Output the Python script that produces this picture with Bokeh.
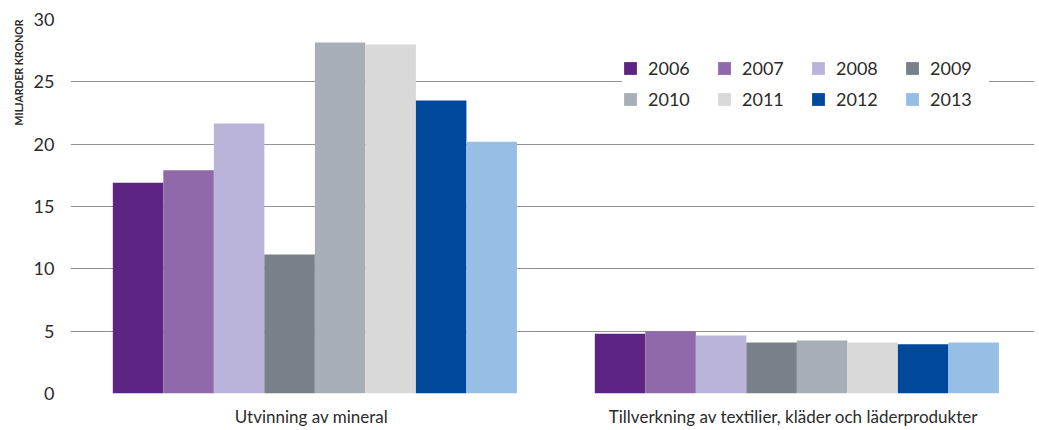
from bokeh.plotting import figure
from bokeh.models import (ColumnDataSource, FactorRange, Range1d, Legend, LegendItem,
                          Title, FixedTicker)
from bokeh.transform import dodge
from bokeh.embed import file_html
from bokeh.resources import INLINE

# Data (miljarder kronor)
categories = ["Utvinning av mineral", "Tillverkning av textilier, kläder och läderprodukter"]
years = ["2006", "2007", "2008", "2009", "2010", "2011", "2012", "2013"]
v2006 = [16.9, 4.8]
v2007 = [17.9, 5.0]
v2008 = [21.65, 4.65]
v2009 = [11.15, 4.1]
v2010 = [28.15, 4.25]
v2011 = [28.0, 4.1]
v2012 = [23.5, 3.95]
v2013 = [20.2, 4.1]
y_ticks = [0, 5, 10, 15, 20, 25, 30]

colors = ["#5c2483", "#8f69a9", "#bab4da", "#7a8088",
          "#a8aeb5", "#d9d9d9", "#00489a", "#97bfe6"]
series = [v2006, v2007, v2008, v2009, v2010, v2011, v2012, v2013]

data = {"cat": categories}
for yr, vals in zip(years, series):
    data[yr] = vals
source = ColumnDataSource(data)

FONT = "Lato"
TEXT = "#2b2b2b"
GRID = "#8e949a"

p = figure(width=1039, height=430, output_backend="svg", toolbar_location=None,
           x_range=FactorRange(*categories, range_padding=0),
           y_range=Range1d(0, 30))
p.min_border_left = 70
p.min_border_right = 5
p.min_border_top = 19
p.min_border_bottom = 37
p.outline_line_color = None
p.background_fill_color = "white"
p.border_fill_color = "white"

bar_w = 0.1048
renderers = []
for i, yr in enumerate(years):
    off = (i - 3.5) * bar_w + 0.007
    r = p.vbar(x=dodge("cat", off, range=p.x_range), top=yr, width=bar_w,
               source=source, fill_color=colors[i], line_color=None)
    renderers.append(r)

# axes
p.yaxis.ticker = FixedTicker(ticks=y_ticks)
p.yaxis.axis_line_color = None
p.yaxis.major_tick_line_color = None
p.yaxis.major_tick_out = 0
p.yaxis.major_tick_in = 0
p.yaxis.minor_tick_line_color = None
p.yaxis.major_label_standoff = 16
p.yaxis.major_label_text_font = FONT
p.yaxis.major_label_text_font_size = "18px"
p.yaxis.major_label_text_color = TEXT

p.xaxis.axis_line_color = None
p.xaxis.major_tick_line_color = None
p.xaxis.major_tick_out = 0
p.xaxis.major_tick_in = 0
p.xaxis.minor_tick_line_color = None
p.xaxis.major_label_standoff = 12
p.xaxis.major_label_text_font = FONT
p.xaxis.major_label_text_font_size = "17px"
p.xaxis.major_label_text_color = TEXT

p.xgrid.grid_line_color = None
p.ygrid.grid_line_color = GRID
p.ygrid.grid_line_width = 1.2
p.ygrid.ticker = FixedTicker(ticks=y_ticks)

p.add_layout(Title(text="MILJARDER KRONOR", align="right", text_font=FONT,
                   text_font_size="10.5px", text_font_style="bold",
                   text_color=TEXT, offset=0, standoff=12), "left")

items = [LegendItem(label=yr, renderers=[r]) for yr, r in zip(years, renderers)]
legend = Legend(items=items, ncols=4, location=(552, 283),
                orientation="horizontal",
                label_text_font=FONT, label_text_font_size="18px",
                label_text_color=TEXT, glyph_width=16, glyph_height=16,
                label_standoff=10, spacing=9, label_height=16, label_width=59,
                padding=20, margin=0,
                background_fill_color="white", background_fill_alpha=1,
                border_line_color=None)
p.add_layout(legend, "center")

open("out.html", "w").write(file_html(p, INLINE))
